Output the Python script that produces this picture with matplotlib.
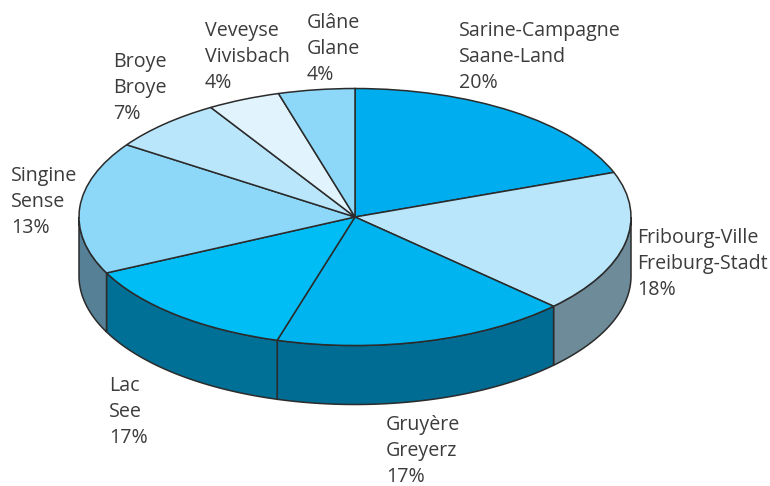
# Districts pie with a fake 3D rim
import numpy as np
import matplotlib
matplotlib.use('Agg')
import matplotlib.pyplot as plt

shares = [19.36, 17.86, 17.33, 13.28, 16.67, 6.75, 4.28, 4.47]
top_colors = ['#00ADEE', '#BAE6FB', '#00B5EF', '#00BDF5', '#8DD8F8', '#BAE6FB', '#E1F4FD', '#8DD8F8']
side_colors = ['#00ADEE', '#6E8B9A', '#006C93', '#007096', '#558096', '#BAE6FB', '#E1F4FD', '#8DD8F8']

# printed labels
label_lines = [
    ['Sarine-Campagne', 'Saane-Land', '20%'],
    ['Fribourg-Ville', 'Freiburg-Stadt', '18%'],
    ['Gruyère', 'Greyerz', '17%'],
    ['Lac', 'See', '17%'],
    ['Singine', 'Sense', '13%'],
    ['Broye', 'Broye', '7%'],
    ['Veveyse', 'Vivisbach', '4%'],
    ['Glâne', 'Glane', '4%'],
]
label_x = [459, 637, 386, 109, 11, 113, 205, 307]
label_y = [36, 243, 430, 391, 181, 67, 36, 28]

# pie geometry in pixels
W, H = 770, 486
cx, cy, rx, ry, depth = 355, 217, 276, 128.5, 59
edge = '#2b2b2b'

fig = plt.figure(figsize=(W / 100, H / 100), dpi=100)
ax = fig.add_axes([0, 0, 1, 1])

ax.pie(shares, colors=top_colors, startangle=90, counterclock=False, radius=1,
       wedgeprops={'edgecolor': edge, 'linewidth': 1.1, 'zorder': 3})

# squash the circle into an ellipse
ax.set_aspect('auto')
ax.set_xlim(-cx / rx, (W - cx) / rx)
ax.set_ylim((cy - H) / ry, cy / ry)
ax.axis('off')

# rim, only the part of each slice on the front half (-180 to 0 degrees)
d = depth / ry
ends = 90 - np.cumsum(shares) / np.sum(shares) * 360
starts = np.r_[90, ends[:-1]]
for a0, a1, c in zip(starts, ends, side_colors):
    lo = max(a1, -180)
    hi = min(a0, 0)
    if hi <= lo:
        continue
    t = np.radians(np.linspace(lo, hi, 80))
    x = np.cos(t)
    y = np.sin(t)
    xs = np.r_[x, x[::-1]]
    ys = np.r_[y, y[::-1] - d]
    ax.fill(xs, ys, facecolor=c, edgecolor=edge, linewidth=1.1, zorder=2)

for lines, x, y in zip(label_lines, label_x, label_y):
    for i, s in enumerate(lines):
        fig.text(x / W, 1 - (y + i * 26) / H, s, family='Open Sans', fontsize=14.1,
                 color='#3c3c3c', ha='left', va='baseline')

fig.savefig('out.png', dpi=100)
